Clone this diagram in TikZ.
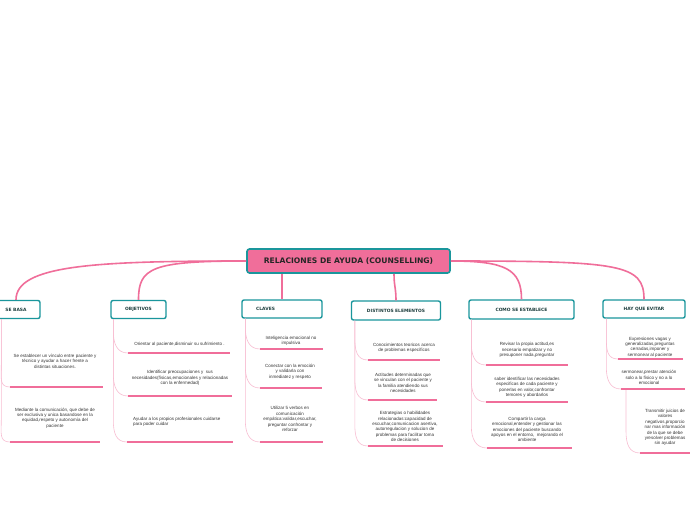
\documentclass[tikz,border=0pt]{standalone}
\usepackage{fontspec}
\setmainfont{Liberation Sans}
\newfontfamily\headfont{DejaVu Sans}
\usetikzlibrary{calc}
\definecolor{pinkc}{HTML}{F06E9A}
\definecolor{tealc}{HTML}{1A969C}
\definecolor{headtxt}{HTML}{1F3F3F}
\definecolor{leaftxt}{HTML}{333333}
\newcommand\leafconn[2]{%
  \path (#2) ++(0,-22) coordinate (tmpk);
  \draw[leafline] (#1) -- (#1 |- tmpk) .. controls +(0,13) and +(-11,0) .. (#2);}
\begin{document}
\begin{tikzpicture}[x=1pt,y=-1pt,
  mainbox/.style={draw=tealc, line width=1.6pt, fill=pinkc, rounded corners=2.5pt,
    minimum width=203pt, minimum height=24pt,
    font=\headfont\bfseries\fontsize{7.6}{8}\selectfont, text=black!85, inner sep=0pt},
  branchbox/.style={draw=tealc, line width=1.4pt, fill=white, rounded corners=2pt,
    minimum height=18pt, font=\headfont\bfseries\fontsize{4.4}{5}\selectfont,
    text=headtxt, inner sep=0pt},
  branchtxt/.style={font=\headfont\bfseries\fontsize{4.4}{5}\selectfont, text=headtxt, inner sep=0pt},
  leaf/.style={font=\fontsize{4.5}{5.4}\selectfont, text=leaftxt, align=center, inner sep=0pt},
  mainline/.style={draw=pinkc, line width=1.6pt},
  leafline/.style={draw=pinkc!45, line width=0.6pt},
  uline/.style={draw=pinkc, line width=1.1pt}]
\useasboundingbox (0,0) rectangle (696,520);
\fill[white] (0,0) rectangle (696,520);

% main node
\node[mainbox] (m) at (348.5,261) {RELACIONES DE AYUDA (COUNSELLING)};

% branch nodes
\node[branchbox, minimum width=48pt]  (sb) at (16,309.5)  {SE BASA};
\node[branchbox, minimum width=55pt]  (ob) at (138.5,309.5) {OBJETIVOS};
\node[branchbox, minimum width=80pt]  (cl) at (282,309) {};
\node[branchtxt, anchor=west] (clt) at (256,309) {CLAVES};
\node[branchbox, minimum width=89pt, minimum height=19pt] (de) at (396,310.5) {DISTINTOS ELEMENTOS};
\node[branchbox, minimum width=105pt, minimum height=19pt] (co) at (521.5,309.5) {COMO SE ESTABLECE};
\node[branchbox, minimum width=82pt]  (hy) at (644,309) {HAY QUE EVITAR};

% main connectors
\draw[mainline] (m.west) .. controls +(-150,0) and +(0,-35) .. (sb.north);
\draw[mainline] (m.west) .. controls +(-95,0) and +(0,-32) .. (ob.north);
\draw[mainline] (m.south -| cl.north) -- (cl.north);
\draw[mainline] ($(m.south -| de.north)+(-2,0)$) .. controls +(0,12) and +(0,-12) .. (de.north);
\draw[mainline] (m.east) .. controls +(55,0) and +(0,-30) .. (co.north);
\draw[mainline] (m.east) .. controls +(170,0) and +(0,-35) .. (hy.north);

% start points of leaf connectors
\coordinate (sbs) at ($(sb.south west)+(10,0)$);
\coordinate (obs) at ($(ob.south west)+(3,0)$);
\coordinate (cls) at ($(cl.south west)+(4,0)$);
\coordinate (des) at ($(de.south west)+(4,0)$);
\coordinate (cos) at ($(co.south west)+(3,0)$);
\coordinate (hys) at ($(hy.south west)+(4,0)$);

% ---------- SE BASA leaves
\node[leaf] (sb1) at (55,361) {Se establecer un vínculo entre paciente y\\técnico y ayudar a hacer frente a\\distintas situaciones.};
\coordinate (sb1a) at (10,387); \coordinate (sb1b) at (103,387);
\node[leaf] (sb2) at (55,418) {Mediante la comunicación, que debe de\\ser exclusiva y unica basandose en la\\equidad,respeto y autonomía del\\paciente};
\coordinate (sb2a) at (10,442); \coordinate (sb2b) at (100,442);

% ---------- OBJETIVOS leaves
\node[leaf] (ob1) at (179.5,344) {Orientar al paciente,disminuir su sufrimiento .};
\coordinate (ob1a) at (128,353); \coordinate (ob1b) at (230,353);
\node[leaf] (ob2) at (180,378) {Identificar preocupaciones y \ sus\\necesidades(físicas,emocionales y relacionadas\\con la enfermedad)};
\coordinate (ob2a) at (128,396); \coordinate (ob2b) at (232,396);
\node[leaf, align=left, anchor=west] (ob3) at (133,422) {Ayudar a los propios profesionales cuidarse\\para poder cuidar};
\coordinate (ob3a) at (127,442); \coordinate (ob3b) at (233,442);

% ---------- CLAVES leaves
\node[leaf] (cl1) at (291,341) {Inteligencia emocional no\\impulsiva};
\coordinate (cl1a) at (260,349); \coordinate (cl1b) at (323,349);
\node[leaf] (cl2) at (290,371.5) {Conectar con la emoción\\y validarla con\\inmediatez y respeto};
\coordinate (cl2a) at (260,388); \coordinate (cl2b) at (322,388);
\node[leaf] (cl3) at (290,419) {Utilizar 5 verbos en\\comunicación\\empática:validar,escuchar,\\preguntar confrontar y\\reforzar};
\coordinate (cl3a) at (260,442); \coordinate (cl3b) at (323,442);

% ---------- DISTINTOS ELEMENTOS leaves
\node[leaf] (de1) at (404,348) {Conocimientos teoricos acerca\\de problemas específicos};
\coordinate (de1a) at (368,360); \coordinate (de1b) at (440,360);
\node[leaf] (de2) at (403,383) {Actitudes determinadas que\\se vinculan con el paciente y\\la familia atendiendo sus\\necesidades};
\coordinate (de2a) at (368,400); \coordinate (de2b) at (437,400);
\node[leaf] (de3) at (405,426.5) {Estrategias o habilidades\\relacionadas:capacidad de\\escuchar,comunicacion asertiva,\\autorregulacion y solucion de\\problemas para facilitar toma\\de decisiones};
\coordinate (de3a) at (368,446); \coordinate (de3b) at (443,446);

% ---------- COMO SE ESTABLECE leaves
\node[leaf] (co1) at (527,350) {Revisar la propia actitud,es\\necesario empatizar y no\\presuponer nada,preguntar};
\coordinate (co1a) at (486,365); \coordinate (co1b) at (568,365);
\node[leaf] (co2) at (527,387.5) {saber identificar las necesidades\\especificas de cada paciente y\\ponerlas en valor,confrontar\\temores y abordarlos};
\coordinate (co2a) at (486,402); \coordinate (co2b) at (568,402);
\node[leaf] (co3) at (527,429.5) {Compartir la carga\\emocional,entender y gestionar las\\emociones del paciente buscando\\apoyos en el entorno, \ mejorando el\\ambiente};
\coordinate (co3a) at (487,448); \coordinate (co3b) at (572,448);

% ---------- HAY QUE EVITAR leaves
\node[leaf] (hy1) at (650,347) {Expresiones vagas y\\generalizadas,preguntas\\cerradas,imponer y\\sermonear al paciente};
\coordinate (hy1a) at (618,359); \coordinate (hy1b) at (683,359);
\node[leaf] (hy2) at (649,377.5) {sermonear,prestar atención\\solo a lo físico y no a lo\\emocional};
\coordinate (hy2a) at (621,389); \coordinate (hy2b) at (685,389);
\coordinate (hy2s) at ($(hy2a)+(5,0)$);
\node[leaf] (hy3) at (665,427.5) {Transmitir juicios de\\valores\\negativos,proporcio\\nar mas información\\de la que se debe\\yresolver problemas\\sin ayudar};
\coordinate (hy3a) at (640,453); \coordinate (hy3b) at (690,453);

% leaf connectors
\leafconn{sbs}{sb1a} \leafconn{sbs}{sb2a}
\leafconn{obs}{ob1a} \leafconn{obs}{ob2a} \leafconn{obs}{ob3a}
\leafconn{cls}{cl1a} \leafconn{cls}{cl2a} \leafconn{cls}{cl3a}
\leafconn{des}{de1a} \leafconn{des}{de2a} \leafconn{des}{de3a}
\leafconn{cos}{co1a} \leafconn{cos}{co2a} \leafconn{cos}{co3a}
\leafconn{hys}{hy1a} \leafconn{hys}{hy2a} \leafconn{hy2s}{hy3a}

% underlines
\foreach \u in {sb1,sb2,ob1,ob2,ob3,cl1,cl2,cl3,de1,de2,de3,co1,co2,co3,hy1,hy2,hy3}
  \draw[uline] (\u a) -- (\u b);
\end{tikzpicture}
\end{document}
